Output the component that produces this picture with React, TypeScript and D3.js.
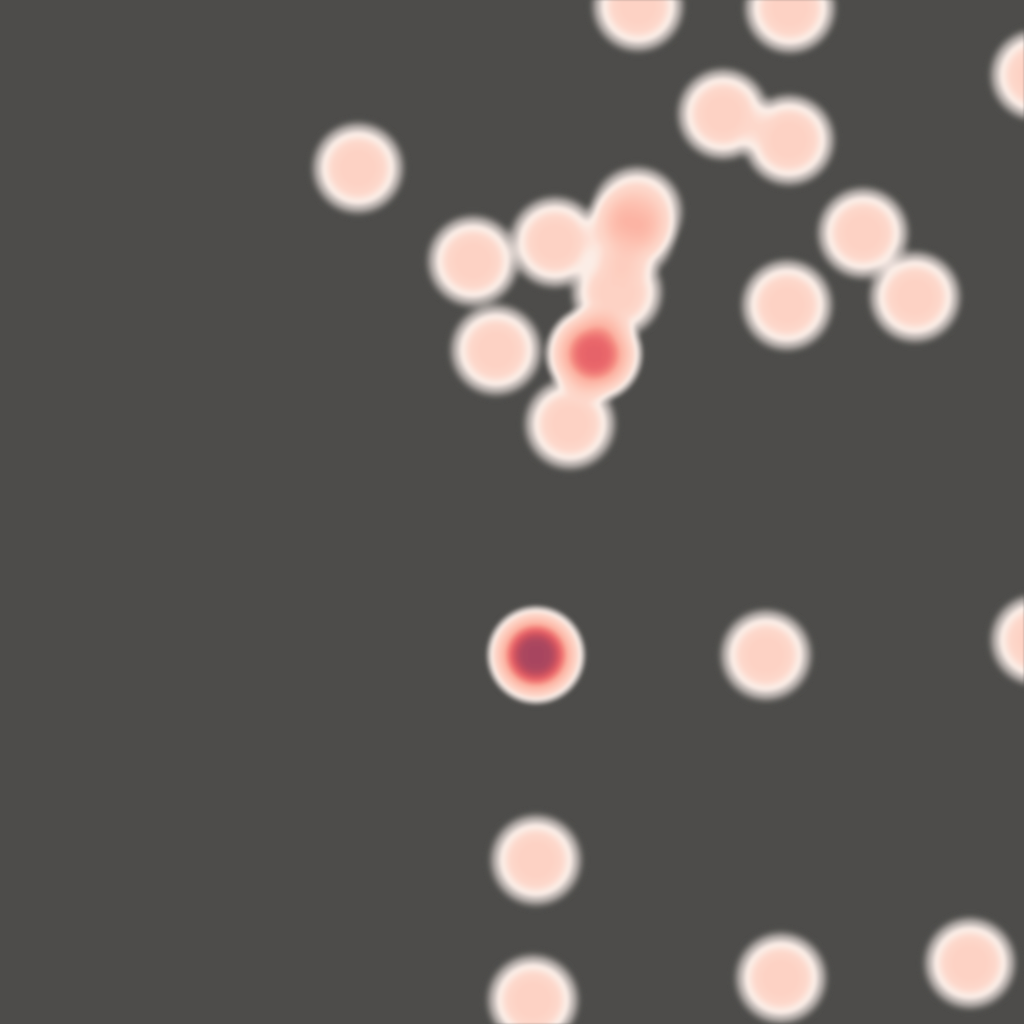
import React, { useMemo } from "react";
import * as d3 from "d3";

// ---- data: point locations (pixel space of the 1024x1024 view) ----
const pointX = [638, 790, 1036, 723, 789, 358, 637, 629, 617, 555, 473, 863, 915, 787, 496, 594, 594, 594, 570, 536, 536, 536, 536, 766, 1036, 536, 533, 781, 970];
const pointY = [6, 8, 75, 114, 140, 168, 212, 234, 292, 242, 261, 233, 297, 305, 350, 354, 354, 354, 424, 655, 655, 655, 655, 655, 640, 860, 1000, 978, 963];

// ---- colour ramp (density -> colour) ----
const rampValues = [0.0, 0.3, 0.45, 0.7, 1.0, 1.5, 2.0, 2.5, 3.0, 3.5, 4.0, 5.0];
const rampColors = ["#e8dfdb", "#f8ece7", "#fcede6", "#fdd9cc", "#fdd1c3", "#fdc2b2", "#fcb3a3", "#f58a80", "#e8646a", "#c9525f", "#a8465f", "#7a3055"];
const alphaValues = [0.0, 0.01, 0.15, 0.4];
const alphaLevels = [0.0, 0.0, 0.55, 1.0];

const BG = "#4d4c4a";
const W = 1024;
const H = 1024;
const R_IN = 10;
const R_OUT = 53;
const STEP = 2;

function kernel(r: number) {
  if (r >= R_OUT) return 0;
  if (r <= R_IN) return 1;
  return 0.5 * (1 + Math.cos((Math.PI * (r - R_IN)) / (R_OUT - R_IN)));
}

export default function App() {
  const { bands } = useMemo(() => {
    const nx = Math.floor(W / STEP) + 1;
    const ny = Math.floor(H / STEP) + 1;
    const grid = new Float64Array(nx * ny);
    for (let p = 0; p < pointX.length; p++) {
      const px = pointX[p], py = pointY[p];
      const i0 = Math.max(0, Math.floor((px - R_OUT) / STEP));
      const i1 = Math.min(nx - 1, Math.ceil((px + R_OUT) / STEP));
      const j0 = Math.max(0, Math.floor((py - R_OUT) / STEP));
      const j1 = Math.min(ny - 1, Math.ceil((py + R_OUT) / STEP));
      for (let j = j0; j <= j1; j++) {
        for (let i = i0; i <= i1; i++) {
          const dx = i * STEP - px, dy = j * STEP - py;
          grid[j * nx + i] += kernel(Math.sqrt(dx * dx + dy * dy));
        }
      }
    }
    const colorScale = d3.scaleLinear<string>().domain(rampValues).range(rampColors).interpolate(d3.interpolateRgb).clamp(true);
    const alphaScale = d3.scaleLinear().domain(alphaValues).range(alphaLevels).clamp(true);
    const thresholds: number[] = [];
    for (let t = 0.005; t < 0.45; t += 0.012) thresholds.push(t);
    for (let t = 0.45; t < 5.2; t += 0.05) thresholds.push(t);
    const contours = d3.contours().size([nx, ny]).thresholds(thresholds)(Array.from(grid));
    const path = d3.geoPath();
    const bands = contours.map((c, k) => {
      const next = k + 1 < thresholds.length ? thresholds[k + 1] : c.value + 0.05;
      const v = (c.value + next) / 2;
      const col = d3.rgb(colorScale(v));
      const a = alphaScale(v);
      const fill = d3.interpolateRgb(BG, col.formatRgb())(a);
      return { d: path(c as any) || "", fill };
    });
    return { bands };
  }, []);

  return (
    <svg width={W} height={H} style={{ position: "fixed", left: 0, top: 0, display: "block" }}>
      <defs>
        <filter id="soft" x="-5%" y="-5%" width="110%" height="110%">
          <feGaussianBlur stdDeviation={0.9} />
        </filter>
      </defs>
      <rect x={0} y={0} width={W} height={H} fill={BG} />
      <g transform={`translate(${-STEP / 2},${-STEP / 2}) scale(${STEP})`} filter="url(#soft)">
        {bands.map((b, i) => (
          <path key={i} d={b.d} fill={b.fill} />
        ))}
      </g>
    </svg>
  );
}
